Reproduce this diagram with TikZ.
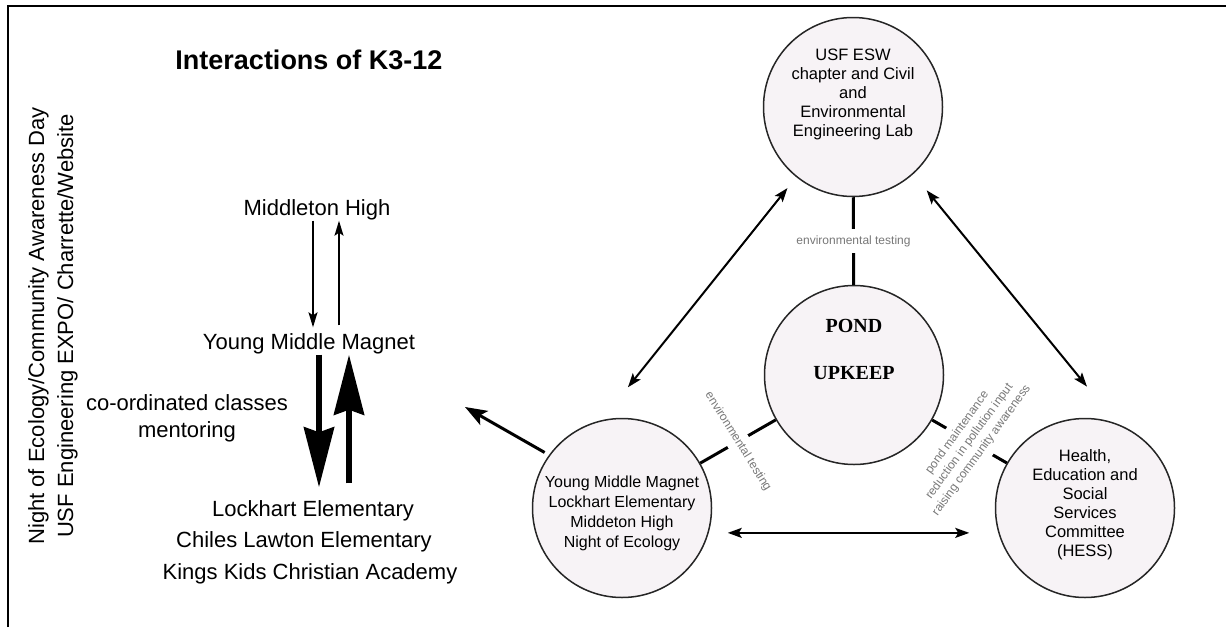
\documentclass[tikz,border=0pt]{standalone}
\usepackage{fontspec}
\setmainfont{Liberation Sans}
\newfontfamily\timesbf{Liberation Serif}
\usepackage{tikz}
\usetikzlibrary{positioning,arrows.meta}
\definecolor{blobfill}{RGB}{247,243,246}
\definecolor{tagtext}{RGB}{120,120,120}
\tikzstyle{blob}=[draw=black!85, line width=1.5pt, fill=blobfill, circle, minimum size=179pt, inner sep=0pt]
\tikzstyle{intext}=[align=center, font=\fontsize{16.5}{19}\selectfont]
\tikzstyle{tie}=[line width=3pt]
\tikzstyle{tag}=[fill=white, inner sep=6pt, text=tagtext, align=center, font=\fontsize{12}{15}\selectfont]
\tikzstyle{sch}=[inner sep=0pt, text height=16pt, text depth=5pt, font=\fontsize{22}{27}\selectfont]
\tikzstyle{arr}=[line width=2pt, >={Stealth[length=14pt,width=10pt,inset=3pt]}]
\tikzstyle{slim}=[->, line width=1.5pt, >={Stealth[length=15pt,width=9pt,inset=3pt]}]
\tikzstyle{fat}=[->, line width=6pt, >={Stealth[length=60pt,width=30pt,inset=5pt]}]

\begin{document}
\begin{tikzpicture}[x=1pt, y=-1pt]
\useasboundingbox (0,0) rectangle (1226,627);
\draw[line width=2pt] (8,627) -- (8,6) -- (1226,6);

% K3-12 side
\node[font=\bfseries\fontsize{27}{32}\selectfont] (title) at (309,60) {Interactions of K3-12};
\node[rotate=90, align=center, font=\fontsize{22}{29}\selectfont] (events) at (53,326) {Night of Ecology/Community Awareness Day\\USF Engineering EXPO/ Charrette/Website};
\node[sch] (mh) at (317,210) {Middleton High};
\node[sch] (ymm) at (309,344) {Young Middle Magnet};
\node[align=center, font=\fontsize{22}{27}\selectfont] (coord) at (187,418) {co-ordinated classes\\mentoring};
\node[sch] (lock) at (313,511) {Lockhart Elementary};
\node[sch, below=10pt of lock, xshift=-9pt] (chiles) {Chiles Lawton Elementary};
\node[sch, below=10pt of chiles, xshift=6pt] (kings) {Kings Kids Christian Academy};

\draw[slim, shorten >=6pt] ([xshift=-4pt]mh.south) -- ([xshift=-4pt]mh.south |- ymm.north);
\draw[slim, shorten <=8pt] ([xshift=22pt]mh.south |- ymm.north) -- ([xshift=22pt]mh.south);
\draw[fat, shorten >=13pt] ([xshift=10pt]ymm.south) -- ([xshift=10pt]ymm.south |- lock.north);
\draw[fat, shorten <=17pt] ([xshift=40pt]ymm.south |- lock.north) -- ([xshift=40pt]ymm.south);

% pond side
\node[blob] (usf) at (853,107) {};
\node[intext] (usftxt) at ([yshift=13pt]usf) {USF ESW\\chapter and Civil\\and\\Environmental\\Engineering Lab};
\node[blob] (pond) at (854,375) {};
\node[align=center, font=\timesbf\bfseries\fontsize{20}{47}\selectfont] (pondtxt) at ([yshift=26pt]pond) {POND\\UPKEEP};
\node[blob] (young) at (622,508) {};
\node[intext, font=\fontsize{16}{20}\selectfont] (youngtxt) at ([yshift=-5pt]young) {Young Middle Magnet\\Lockhart Elementary\\Middeton High\\Night of Ecology};
\node[blob] (hess) at (1085,508) {};
\node[intext] (hesstxt) at ([yshift=3pt]hess) {Health,\\Education and\\Social\\Services\\Committee\\(HESS)};

\draw[tie] (usf) -- node[tag] (t1) {environmental testing} (pond);
\draw[tie] (young) -- node[tag, rotate=-58] (t2) {environmental testing} (pond);
\draw[tie] (pond) -- node[tag, rotate=54] (t3) {pond maintenance\\reduction in pollution input\\raising community awareness} (hess);

\draw[arr, <->, shorten <=14pt, shorten >=42pt] (usf.231) -- (young.103);
\draw[arr, <->, shorten <=21pt, shorten >=48pt] (usf.312) -- (hess.69);
\draw[arr, <->, shorten <=19pt, shorten >=29pt] (young.344) -- (hess.196);
\coordinate (k12) at (465,407);
\draw[arr, ->, line width=3pt, >={Stealth[length=22pt,width=16pt,inset=5pt]}, shorten <=5pt] (young.144) -- (k12);
\end{tikzpicture}
\end{document}
